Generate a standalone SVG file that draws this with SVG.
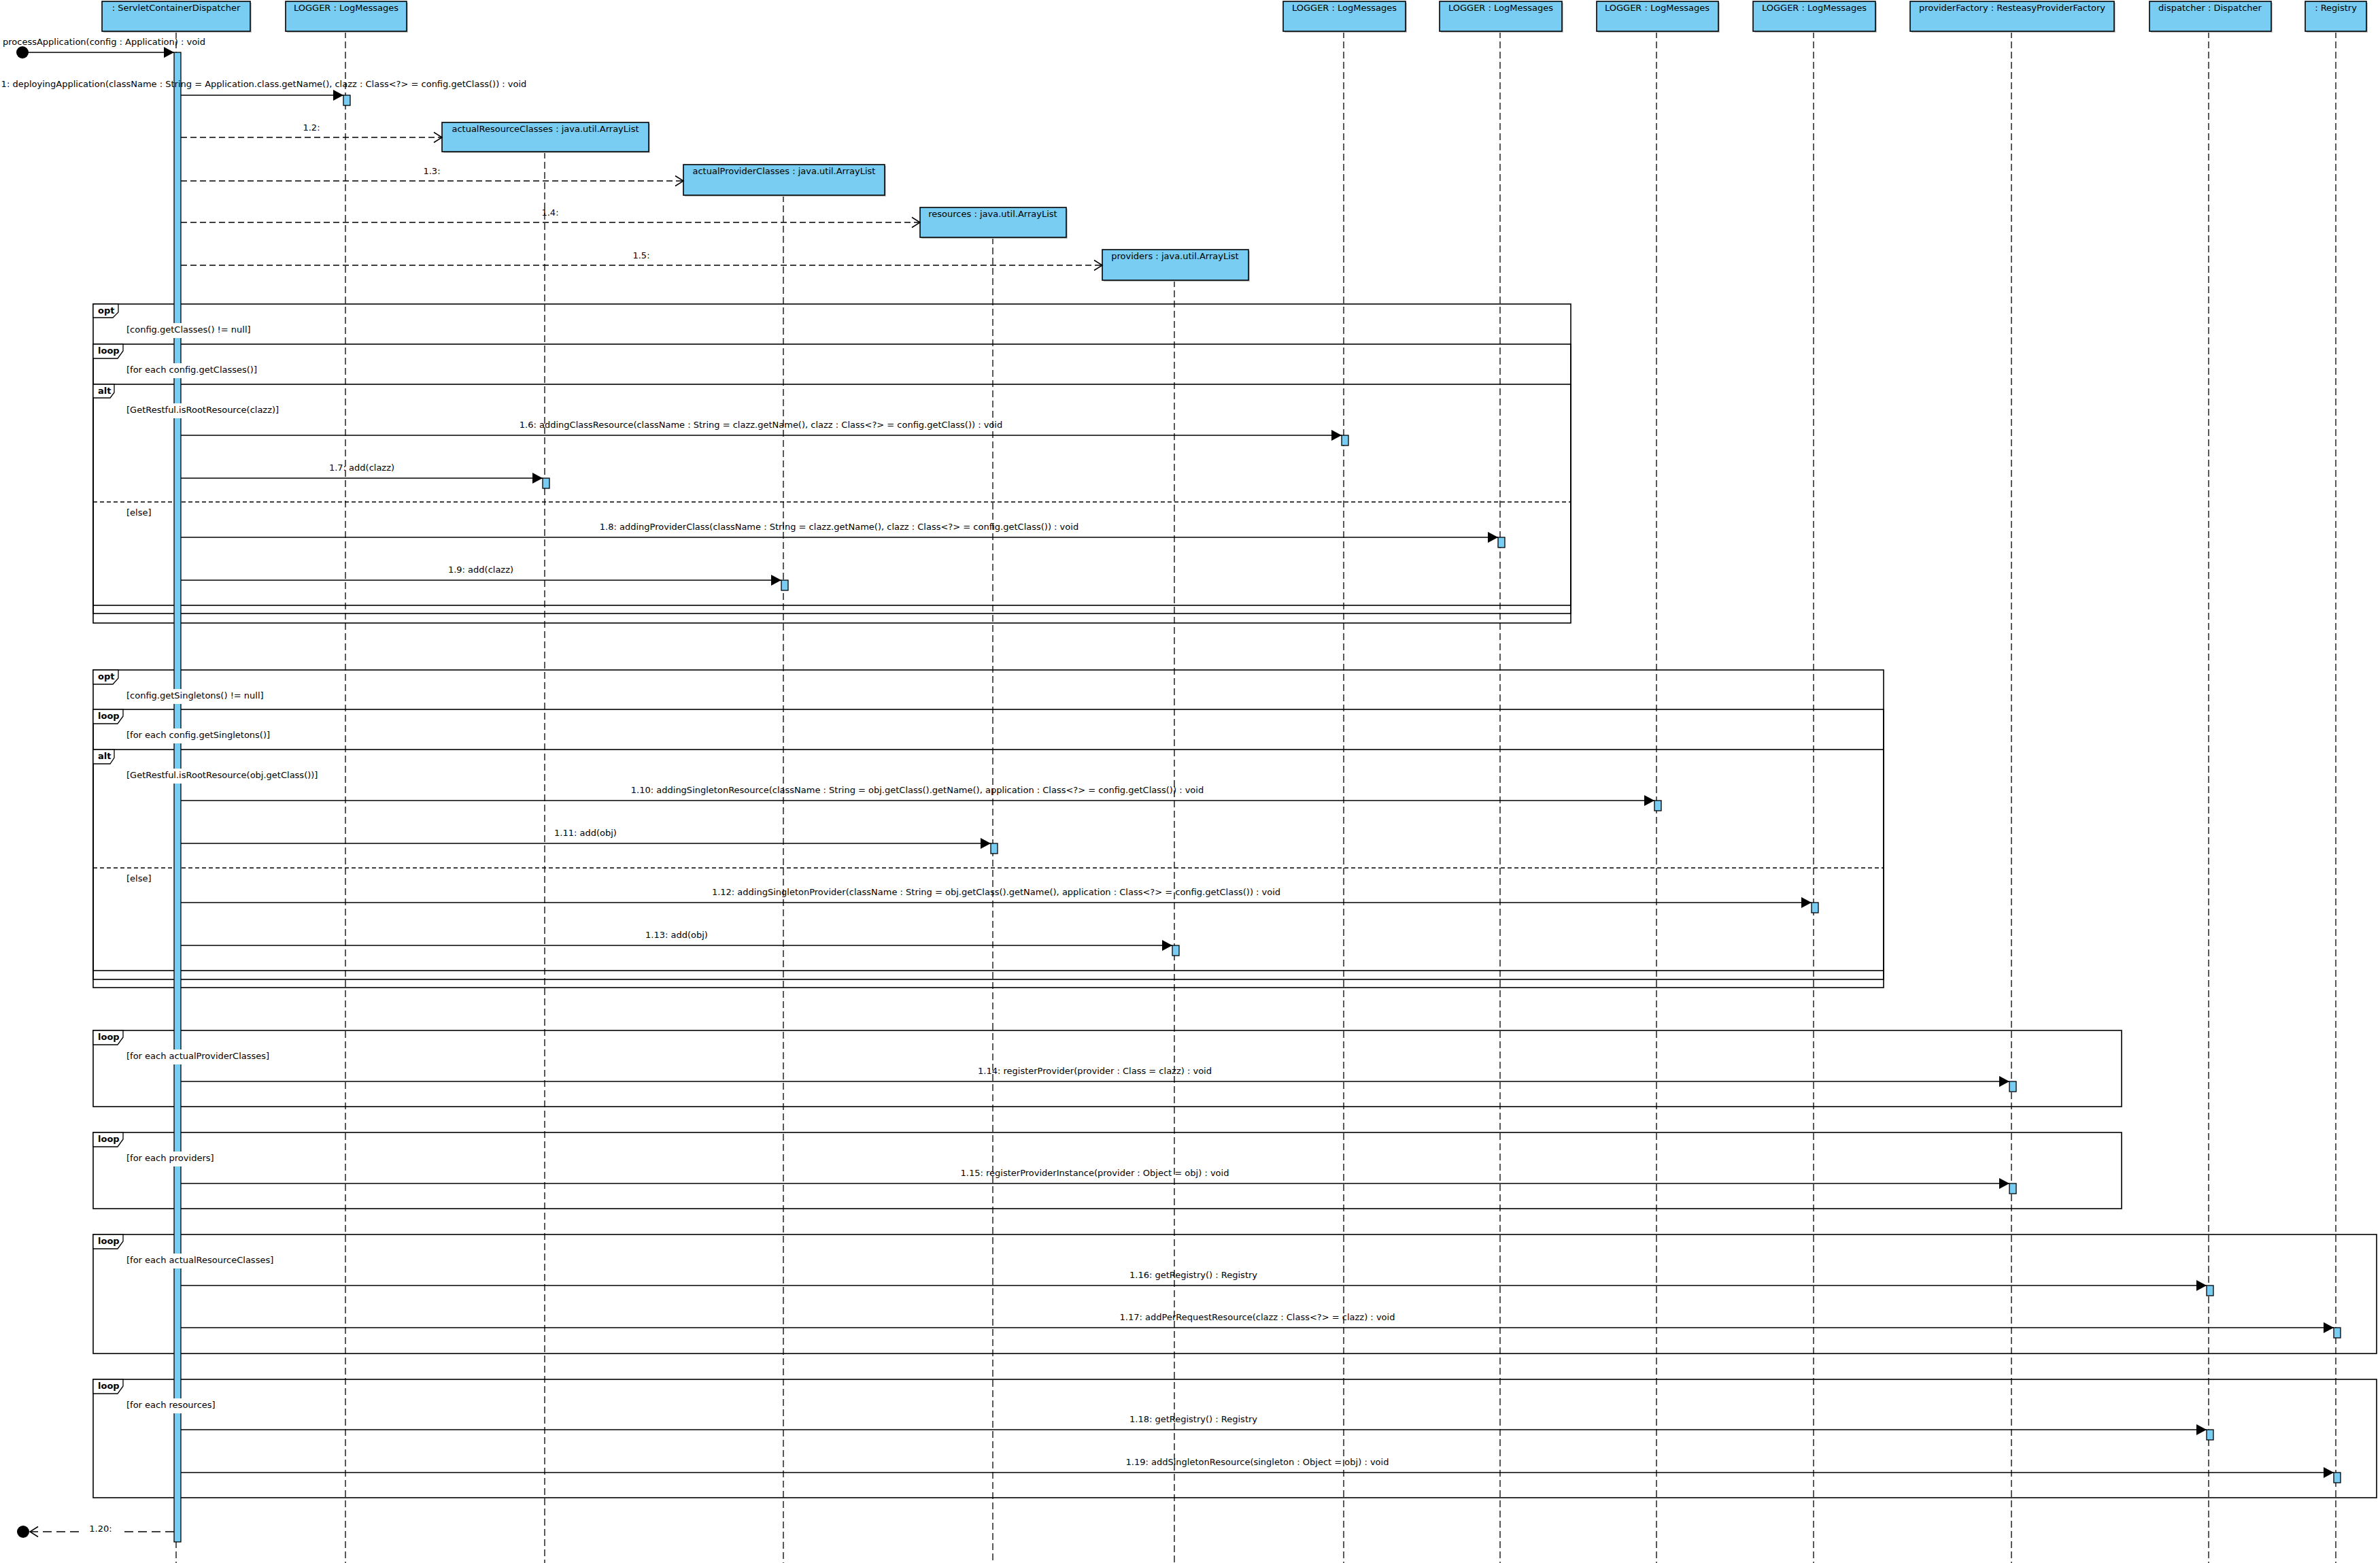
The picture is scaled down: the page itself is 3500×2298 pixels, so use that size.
<svg xmlns="http://www.w3.org/2000/svg" width="3500" height="2298" viewBox="0 0 3500 2298">
<style>
.t{font-family:"DejaVu Sans","Liberation Sans",sans-serif;font-size:13px;fill:#000}
.m{text-anchor:middle}
.b{font-weight:bold}
.box{fill:#79CDF2;stroke:#000;stroke-width:1.6}
.sh{fill:#c8c8c8}
.act{fill:#79CDF2;stroke:#000;stroke-width:1.3}
.life{stroke:#000;stroke-width:1.3;stroke-dasharray:10 5;fill:none}
.frame{fill:none;stroke:#000;stroke-width:1.6}
.tab{fill:#fff;stroke:#000;stroke-width:1.3}
.msg{stroke:#000;stroke-width:1.5;fill:none}
.sync{marker-end:url(#fill)}
.create{stroke-dasharray:9 5;marker-end:url(#open)}
.ret{stroke-dasharray:13 7}
.div{stroke:#000;stroke-width:1.3;stroke-dasharray:6 4}
.bg{fill:#fff}
</style>
<defs>
<marker id="fill" markerUnits="userSpaceOnUse" markerWidth="16" markerHeight="17" refX="15" refY="8" orient="auto" overflow="visible"><path d="M0,0 L15,8 L0,16 z" fill="#000"/></marker>
<marker id="open" markerUnits="userSpaceOnUse" markerWidth="14" markerHeight="17" refX="12" refY="8" orient="auto" overflow="visible"><path d="M0,0.5 L12,8 L0,15.5" fill="none" stroke="#000" stroke-width="1.5"/></marker>
</defs>
<rect width="3500" height="2298" fill="#fff"/>

<g id="lifelines">
<line class="life" x1="259" y1="46" x2="259" y2="2298"/>
<line class="life" x1="508" y1="46" x2="508" y2="2298"/>
<line class="life" x1="801" y1="223" x2="801" y2="2298"/>
<line class="life" x1="1152" y1="287" x2="1152" y2="2298"/>
<line class="life" x1="1460" y1="349" x2="1460" y2="2298"/>
<line class="life" x1="1727" y1="412" x2="1727" y2="2298"/>
<line class="life" x1="1976" y1="46" x2="1976" y2="2298"/>
<line class="life" x1="2206" y1="46" x2="2206" y2="2298"/>
<line class="life" x1="2436" y1="46" x2="2436" y2="2298"/>
<line class="life" x1="2667" y1="46" x2="2667" y2="2298"/>
<line class="life" x1="2958" y1="46" x2="2958" y2="2298"/>
<line class="life" x1="3248" y1="46" x2="3248" y2="2298"/>
<line class="life" x1="3435" y1="46" x2="3435" y2="2298"/>
</g>

<g id="node-servlet"><rect class="sh" x="152" y="4" width="218" height="44"/><rect class="box" x="150" y="2" width="218" height="44"/><text class="t m" x="259" y="16">: ServletContainerDispatcher</text></g>
<g id="node-logger1"><rect class="sh" x="422" y="4" width="178" height="44"/><rect class="box" x="420" y="2" width="178" height="44"/><text class="t m" x="509" y="16">LOGGER : LogMessages</text></g>
<g id="node-actualResourceClasses"><rect class="sh" x="652" y="182" width="304" height="43"/><rect class="box" x="650" y="180" width="304" height="43"/><text class="t m" x="802" y="194">actualResourceClasses : java.util.ArrayList</text></g>
<g id="node-actualProviderClasses"><rect class="sh" x="1007" y="244" width="296" height="45"/><rect class="box" x="1005" y="242" width="296" height="45"/><text class="t m" x="1153" y="256">actualProviderClasses : java.util.ArrayList</text></g>
<g id="node-resources"><rect class="sh" x="1355" y="307" width="215" height="44"/><rect class="box" x="1353" y="305" width="215" height="44"/><text class="t m" x="1460" y="319">resources : java.util.ArrayList</text></g>
<g id="node-providers"><rect class="sh" x="1623" y="369" width="215" height="45"/><rect class="box" x="1621" y="367" width="215" height="45"/><text class="t m" x="1728" y="381">providers : java.util.ArrayList</text></g>
<g id="node-logger2"><rect class="sh" x="1889" y="4" width="180" height="44"/><rect class="box" x="1887" y="2" width="180" height="44"/><text class="t m" x="1977" y="16">LOGGER : LogMessages</text></g>
<g id="node-logger3"><rect class="sh" x="2119" y="4" width="180" height="44"/><rect class="box" x="2117" y="2" width="180" height="44"/><text class="t m" x="2207" y="16">LOGGER : LogMessages</text></g>
<g id="node-logger4"><rect class="sh" x="2350" y="4" width="179" height="44"/><rect class="box" x="2348" y="2" width="179" height="44"/><text class="t m" x="2437" y="16">LOGGER : LogMessages</text></g>
<g id="node-logger5"><rect class="sh" x="2580" y="4" width="180" height="44"/><rect class="box" x="2578" y="2" width="180" height="44"/><text class="t m" x="2668" y="16">LOGGER : LogMessages</text></g>
<g id="node-providerFactory"><rect class="sh" x="2811" y="4" width="300" height="44"/><rect class="box" x="2809" y="2" width="300" height="44"/><text class="t m" x="2959" y="16">providerFactory : ResteasyProviderFactory</text></g>
<g id="node-dispatcher"><rect class="sh" x="3163" y="4" width="179" height="44"/><rect class="box" x="3161" y="2" width="179" height="44"/><text class="t m" x="3250" y="16">dispatcher : Dispatcher</text></g>
<g id="node-registry"><rect class="sh" x="3392" y="4" width="90" height="44"/><rect class="box" x="3390" y="2" width="90" height="44"/><text class="t m" x="3435" y="16">: Registry</text></g>

<g id="fragments">
<g id="frag-opt1">
<rect class="frame" x="137" y="447" width="2173" height="469"/>
<path class="tab" d="M137,447 H174 V459 L166,467 H137 Z"/>
<text class="t b" x="144" y="461">opt</text>
</g>
<g id="frag-loop1">
<rect class="frame" x="137" y="506" width="2173" height="396"/>
<path class="tab" d="M137,506 H181 V516 L173,527 H137 Z"/>
<text class="t b" x="144" y="520">loop</text>
</g>
<g id="frag-alt1">
<rect class="frame" x="137" y="565" width="2173" height="325"/>
<path class="tab" d="M137,565 H168 V577 L162,585 H137 Z"/>
<text class="t b" x="144" y="579">alt</text>
<line class="div" x1="137" y1="738" x2="2310" y2="738"/>
</g>
<g id="frag-opt2">
<rect class="frame" x="137" y="985" width="2633" height="467"/>
<path class="tab" d="M137,985 H174 V997 L166,1006 H137 Z"/>
<text class="t b" x="144" y="999">opt</text>
</g>
<g id="frag-loop2">
<rect class="frame" x="137" y="1043" width="2633" height="397"/>
<path class="tab" d="M137,1043 H181 V1053 L173,1064 H137 Z"/>
<text class="t b" x="144" y="1057">loop</text>
</g>
<g id="frag-alt2">
<rect class="frame" x="137" y="1102" width="2633" height="325"/>
<path class="tab" d="M137,1102 H168 V1114 L162,1123 H137 Z"/>
<text class="t b" x="144" y="1116">alt</text>
<line class="div" x1="137" y1="1276" x2="2770" y2="1276"/>
</g>
<g id="frag-loop3">
<rect class="frame" x="137" y="1515" width="2983" height="112"/>
<path class="tab" d="M137,1515 H181 V1525 L173,1536 H137 Z"/>
<text class="t b" x="144" y="1529">loop</text>
</g>
<g id="frag-loop4">
<rect class="frame" x="137" y="1665" width="2983" height="112"/>
<path class="tab" d="M137,1665 H181 V1675 L173,1686 H137 Z"/>
<text class="t b" x="144" y="1679">loop</text>
</g>
<g id="frag-loop5">
<rect class="frame" x="137" y="1815" width="3358" height="175"/>
<path class="tab" d="M137,1815 H181 V1825 L173,1836 H137 Z"/>
<text class="t b" x="144" y="1829">loop</text>
</g>
<g id="frag-loop6">
<rect class="frame" x="137" y="2028" width="3358" height="174"/>
<path class="tab" d="M137,2028 H181 V2038 L173,2049 H137 Z"/>
<text class="t b" x="144" y="2042">loop</text>
</g>
</g>

<g id="activation-main"><rect class="act" x="256" y="77" width="10" height="2190"/></g>

<g id="guards">
<rect class="bg" x="183" y="475" width="190" height="22"/><text class="t" x="186" y="489">[config.getClasses() != null]</text>
<rect class="bg" x="183" y="534" width="199" height="22"/><text class="t" x="186" y="548">[for each config.getClasses()]</text>
<rect class="bg" x="183" y="593" width="233" height="22"/><text class="t" x="186" y="607">[GetRestful.isRootResource(clazz)]</text>
<text class="t" x="186" y="758">[else]</text>
<rect class="bg" x="183" y="1013" width="209" height="22"/><text class="t" x="186" y="1027">[config.getSingletons() != null]</text>
<rect class="bg" x="183" y="1071" width="219" height="22"/><text class="t" x="186" y="1085">[for each config.getSingletons()]</text>
<rect class="bg" x="183" y="1130" width="290" height="22"/><text class="t" x="186" y="1144">[GetRestful.isRootResource(obj.getClass())]</text>
<text class="t" x="186" y="1296">[else]</text>
<rect class="bg" x="183" y="1543" width="217" height="22"/><text class="t" x="186" y="1557">[for each actualProviderClasses]</text>
<rect class="bg" x="183" y="1693" width="136" height="22"/><text class="t" x="186" y="1707">[for each providers]</text>
<rect class="bg" x="183" y="1843" width="221" height="22"/><text class="t" x="186" y="1857">[for each actualResourceClasses]</text>
<rect class="bg" x="183" y="2056" width="138" height="22"/><text class="t" x="186" y="2070">[for each resources]</text>
</g>

<g id="activations">
<rect class="act" x="505" y="140" width="10" height="15"/>
<rect class="act" x="1973" y="640" width="10" height="15"/>
<rect class="act" x="798" y="703" width="10" height="15"/>
<rect class="act" x="2203" y="790" width="10" height="15"/>
<rect class="act" x="1149" y="853" width="10" height="15"/>
<rect class="act" x="2433" y="1177" width="10" height="15"/>
<rect class="act" x="1457" y="1240" width="10" height="15"/>
<rect class="act" x="2664" y="1327" width="10" height="15"/>
<rect class="act" x="1724" y="1390" width="10" height="15"/>
<rect class="act" x="2955" y="1590" width="10" height="15"/>
<rect class="act" x="2955" y="1740" width="10" height="15"/>
<rect class="act" x="3245" y="1890" width="10" height="15"/>
<rect class="act" x="3432" y="1952" width="10" height="15"/>
<rect class="act" x="3245" y="2102" width="10" height="15"/>
<rect class="act" x="3432" y="2165" width="10" height="15"/>
</g>

<g id="connectors">
<circle cx="33" cy="77" r="9" fill="#000"/>
<line class="msg sync" x1="40" y1="77" x2="256" y2="77"/>
<line class="msg sync" x1="266" y1="140" x2="505" y2="140"/>
<line class="msg create" x1="266" y1="202" x2="650" y2="202"/>
<line class="msg create" x1="266" y1="266" x2="1005" y2="266"/>
<line class="msg create" x1="266" y1="327" x2="1353" y2="327"/>
<line class="msg create" x1="266" y1="390" x2="1621" y2="390"/>
<line class="msg sync" x1="266" y1="640" x2="1973" y2="640"/>
<line class="msg sync" x1="266" y1="703" x2="798" y2="703"/>
<line class="msg sync" x1="266" y1="790" x2="2203" y2="790"/>
<line class="msg sync" x1="266" y1="853" x2="1149" y2="853"/>
<line class="msg sync" x1="266" y1="1177" x2="2433" y2="1177"/>
<line class="msg sync" x1="266" y1="1240" x2="1457" y2="1240"/>
<line class="msg sync" x1="266" y1="1327" x2="2664" y2="1327"/>
<line class="msg sync" x1="266" y1="1390" x2="1724" y2="1390"/>
<line class="msg sync" x1="266" y1="1590" x2="2955" y2="1590"/>
<line class="msg sync" x1="266" y1="1740" x2="2955" y2="1740"/>
<line class="msg sync" x1="266" y1="1890" x2="3245" y2="1890"/>
<line class="msg sync" x1="266" y1="1952" x2="3432" y2="1952"/>
<line class="msg sync" x1="266" y1="2102" x2="3245" y2="2102"/>
<line class="msg sync" x1="266" y1="2165" x2="3432" y2="2165"/>
<line class="msg ret" x1="256" y1="2252" x2="181" y2="2252"/>
<line class="msg ret" x1="116" y1="2252" x2="44" y2="2252" marker-end="url(#open)"/>
<circle cx="34" cy="2252" r="9" fill="#000"/>
</g>

<g id="message-labels">
<text class="t" x="4" y="66">processApplication(config : Application) : void</text>
<text class="t m" x="388" y="128">1: deployingApplication(className : String = Application.class.getName(), clazz : Class&lt;?&gt; = config.getClass()) : void</text>
<text class="t m" x="458" y="192">1.2:</text>
<text class="t m" x="635" y="256">1.3:</text>
<text class="t m" x="809" y="317">1.4:</text>
<text class="t m" x="943" y="380">1.5:</text>
<text class="t m" x="1119" y="629">1.6: addingClassResource(className : String = clazz.getName(), clazz : Class&lt;?&gt; = config.getClass()) : void</text>
<text class="t m" x="532" y="692">1.7: add(clazz)</text>
<text class="t m" x="1234" y="779">1.8: addingProviderClass(className : String = clazz.getName(), clazz : Class&lt;?&gt; = config.getClass()) : void</text>
<text class="t m" x="707" y="842">1.9: add(clazz)</text>
<text class="t m" x="1349" y="1166">1.10: addingSingletonResource(className : String = obj.getClass().getName(), application : Class&lt;?&gt; = config.getClass()) : void</text>
<text class="t m" x="861" y="1229">1.11: add(obj)</text>
<text class="t m" x="1465" y="1316">1.12: addingSingletonProvider(className : String = obj.getClass().getName(), application : Class&lt;?&gt; = config.getClass()) : void</text>
<text class="t m" x="995" y="1379">1.13: add(obj)</text>
<text class="t m" x="1610" y="1579">1.14: registerProvider(provider : Class = clazz) : void</text>
<text class="t m" x="1610" y="1729">1.15: registerProviderInstance(provider : Object = obj) : void</text>
<text class="t m" x="1755" y="1879">1.16: getRegistry() : Registry</text>
<text class="t m" x="1849" y="1941">1.17: addPerRequestResource(clazz : Class&lt;?&gt; = clazz) : void</text>
<text class="t m" x="1755" y="2091">1.18: getRegistry() : Registry</text>
<text class="t m" x="1849" y="2154">1.19: addSingletonResource(singleton : Object = obj) : void</text>
<text class="t m" x="148" y="2252">1.20:</text>
</g>
</svg>
